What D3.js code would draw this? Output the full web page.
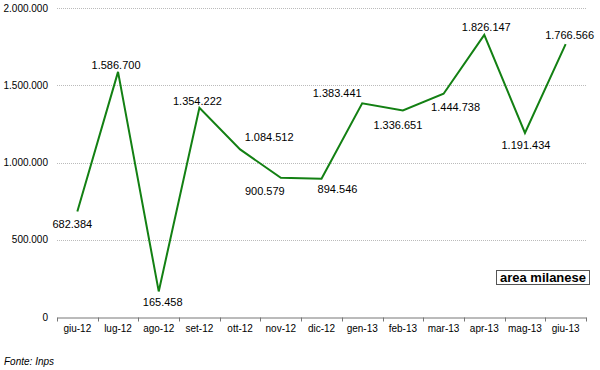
<!DOCTYPE html>
<html>
<head>
<meta charset="utf-8">
<script src="https://cdn.jsdelivr.net/npm/d3@7"></script>
<style>
  body { margin: 0; background: #fff; }
  text { font-family: Arial, "Liberation Sans", sans-serif; }
</style>
</head>
<body>
<div id="root"></div>
<script>
// months and values (area milanese)
const months = ['giu-12', 'lug-12', 'ago-12', 'set-12', 'ott-12', 'nov-12', 'dic-12',
  'gen-13', 'feb-13', 'mar-13', 'apr-13', 'mag-13', 'giu-13'];
const values = [682384, 1586700, 165458, 1354222, 1084512, 900579, 894546,
  1383441, 1336651, 1444738, 1826147, 1191434, 1766566];
const yTicks = [0, 500000, 1000000, 1500000, 2000000];

// where each value label sits relative to its point
const labelOffsets = [[-5, 12], [-2, -7], [4, 11], [-2, -7], [29, -12], [-16, 13], [16, 10],
  [-25, -10], [-5, 15], [12, 13], [2, -8], [1, 12], [4, -9]];

var width = 600, height = 370;
var margin = { top: 8, right: 14, bottom: 53, left: 57 };

var svg = d3.select('#root')
  .append('svg')
  .attr('width', width)
  .attr('height', height);

const it = d3.formatLocale({ decimal: ',', thousands: '.', grouping: [3], currency: ['', ''] });
const fmt = it.format(',d');

var x = d3.scaleBand()
  .domain(months)
  .range([margin.left, width - margin.right]);

var y = d3.scaleLinear()
  .domain([0, 2000000])
  .range([height - margin.bottom, margin.top]);

// dotted gridlines
svg.append('g')
  .selectAll('line')
  .data(yTicks.filter(d => d > 0))
  .enter()
  .append('line')
  .attr('x1', x.range()[0])
  .attr('x2', x.range()[1])
  .attr('y1', d => Math.round(y(d)) + 0.5)
  .attr('y2', d => Math.round(y(d)) + 0.5)
  .attr('stroke', '#bbb')
  .attr('stroke-dasharray', '1,1');

// y axis labels only
var yAxis = svg.append('g')
  .attr('transform', `translate(${margin.left},0)`)
  .call(d3.axisLeft(y).tickValues(yTicks).tickFormat(fmt).tickSize(0).tickPadding(9));
yAxis.select('.domain').remove();
yAxis.selectAll('text').attr('font-size', 10).attr('fill', '#000')
  .attr('font-family', 'Arial, "Liberation Sans", sans-serif');

// x axis
var xAxis = svg.append('g')
  .attr('transform', `translate(0,${Math.round(y(0)) + 0.5})`)
  .call(d3.axisBottom(x).tickSize(0).tickPadding(7));
xAxis.select('.domain').attr('stroke', '#777');
xAxis.selectAll('text').attr('font-size', 10).attr('fill', '#000')
  .attr('font-family', 'Arial, "Liberation Sans", sans-serif');

// tick marks at band boundaries
var bounds = months.map(m => x(m)).concat([x.range()[1]]);
xAxis.selectAll('.bound')
  .data(bounds)
  .enter()
  .append('line')
  .attr('class', 'bound')
  .attr('x1', d => Math.round(d) + 0.5)
  .attr('x2', d => Math.round(d) + 0.5)
  .attr('y1', 0)
  .attr('y2', 4)
  .attr('stroke', '#777');

// the line
var line = d3.line()
  .x((d, i) => x(months[i]) + x.bandwidth() / 2)
  .y(d => y(d));

svg.append('path')
  .datum(values)
  .attr('fill', 'none')
  .attr('stroke', '#138013')
  .attr('stroke-width', 2)
  .attr('stroke-linejoin', 'miter')
  .attr('d', line);

// value labels
svg.selectAll('.val')
  .data(values)
  .enter()
  .append('text')
  .attr('class', 'val')
  .attr('x', (d, i) => x(months[i]) + x.bandwidth() / 2 + labelOffsets[i][0])
  .attr('y', (d, i) => y(d) + labelOffsets[i][1])
  .attr('text-anchor', 'middle')
  .attr('dominant-baseline', 'central')
  .attr('font-size', 11)
  .text(d => fmt(d));

// legend box
var lg = svg.append('g');
lg.append('rect')
  .attr('x', 496.5)
  .attr('y', 270.5)
  .attr('width', 93)
  .attr('height', 14)
  .attr('fill', '#fff')
  .attr('stroke', '#555');
lg.append('text')
  .attr('x', 543)
  .attr('y', 277.5)
  .attr('text-anchor', 'middle')
  .attr('dominant-baseline', 'central')
  .attr('font-size', 13)
  .attr('font-weight', 'bold')
  .text('area milanese');

// source note
svg.append('text')
  .attr('x', 4)
  .attr('y', 365)
  .attr('font-size', 10)
  .attr('font-style', 'italic')
  .text('Fonte: Inps');
</script>
</body>
</html>
